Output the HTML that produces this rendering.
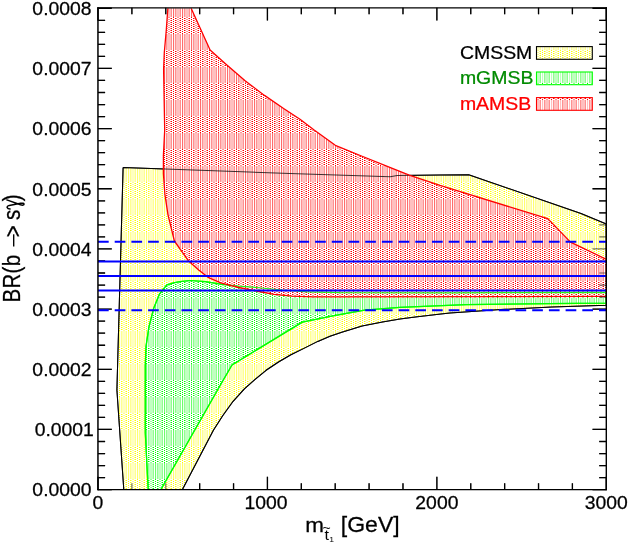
<!DOCTYPE html>
<html><head><meta charset="utf-8"><title>BR(b->s gamma) vs stop mass</title>
<style>
html,body{margin:0;padding:0;background:#fff;}
svg{display:block;will-change:transform;}
text{font-family:"Liberation Sans",sans-serif;}
</style></head><body>
<svg width="629" height="545" viewBox="0 0 629 545">
<defs>
<pattern id="pY" patternUnits="userSpaceOnUse" width="9" height="33" patternTransform="translate(0,17)">
<rect width="9" height="33" fill="#fff"/>
<rect x="4" y="17" width="5" height="16" fill="#ffffc0"/>
<rect x="0" y="17" width="1" height="16" fill="#ffffc0"/>
<rect x="2" y="17" width="1.1" height="16" fill="#ffff00" fill-opacity="0.58"/>
<rect x="4" y="17" width="1" height="16" fill="#ffff00" fill-opacity="0.25"/>
<rect x="0" y="17" width="1" height="16" fill="#ffff00" fill-opacity="0.25"/>
<rect x="2" y="0" width="1" height="1" fill="#ffff00"/>
<rect x="6" y="0" width="2" height="1" fill="#ffff00" fill-opacity="0.42"/>
<rect x="0" y="1" width="1" height="1" fill="#ffff00"/>
<rect x="8.5" y="1" width="0.5" height="1" fill="#ffff00"/>
<rect x="4" y="1" width="1.5" height="1" fill="#ffff00"/>
<rect x="2" y="2" width="1" height="1" fill="#ffff00"/>
<rect x="6" y="2" width="2" height="1" fill="#ffff00" fill-opacity="0.42"/>
<rect x="0" y="3" width="1" height="1" fill="#ffff00"/>
<rect x="8.5" y="3" width="0.5" height="1" fill="#ffff00"/>
<rect x="4" y="3" width="1.5" height="1" fill="#ffff00"/>
<rect x="2" y="4" width="1" height="1" fill="#ffff00"/>
<rect x="6" y="4" width="2" height="1" fill="#ffff00" fill-opacity="0.42"/>
<rect x="0" y="5" width="1" height="1" fill="#ffff00"/>
<rect x="8.5" y="5" width="0.5" height="1" fill="#ffff00"/>
<rect x="4" y="5" width="1.5" height="1" fill="#ffff00"/>
<rect x="2" y="6" width="1" height="1" fill="#ffff00"/>
<rect x="6" y="6" width="2" height="1" fill="#ffff00" fill-opacity="0.42"/>
<rect x="0" y="7" width="1" height="1" fill="#ffff00"/>
<rect x="8.5" y="7" width="0.5" height="1" fill="#ffff00"/>
<rect x="4" y="7" width="1.5" height="1" fill="#ffff00"/>
<rect x="2" y="8" width="1" height="1" fill="#ffff00"/>
<rect x="6" y="8" width="2" height="1" fill="#ffff00" fill-opacity="0.42"/>
<rect x="0" y="9" width="1" height="1" fill="#ffff00"/>
<rect x="8.5" y="9" width="0.5" height="1" fill="#ffff00"/>
<rect x="4" y="9" width="1.5" height="1" fill="#ffff00"/>
<rect x="2" y="10" width="1" height="1" fill="#ffff00"/>
<rect x="6" y="10" width="2" height="1" fill="#ffff00" fill-opacity="0.42"/>
<rect x="0" y="11" width="1" height="1" fill="#ffff00"/>
<rect x="8.5" y="11" width="0.5" height="1" fill="#ffff00"/>
<rect x="4" y="11" width="1.5" height="1" fill="#ffff00"/>
<rect x="2" y="12" width="1" height="1" fill="#ffff00"/>
<rect x="6" y="12" width="2" height="1" fill="#ffff00" fill-opacity="0.42"/>
<rect x="0" y="13" width="1" height="1" fill="#ffff00"/>
<rect x="8.5" y="13" width="0.5" height="1" fill="#ffff00"/>
<rect x="4" y="13" width="1.5" height="1" fill="#ffff00"/>
<rect x="2" y="14" width="1" height="1" fill="#ffff00"/>
<rect x="6" y="14" width="2" height="1" fill="#ffff00" fill-opacity="0.42"/>
<rect x="0" y="15" width="1" height="1" fill="#ffff00"/>
<rect x="8.5" y="15" width="0.5" height="1" fill="#ffff00"/>
<rect x="4" y="15" width="1.5" height="1" fill="#ffff00"/>
<rect x="2" y="16" width="1" height="1" fill="#ffff00"/>
<rect x="6" y="16" width="2" height="1" fill="#ffff00" fill-opacity="0.42"/>
</pattern>
<pattern id="pG" patternUnits="userSpaceOnUse" width="9" height="33" patternTransform="translate(0,17)">
<rect width="9" height="33" fill="#fff"/>
<rect x="4" y="17" width="5" height="16" fill="#c0ffc0"/>
<rect x="0" y="17" width="1" height="16" fill="#c0ffc0"/>
<rect x="2" y="17" width="1.1" height="16" fill="#00ff00" fill-opacity="0.58"/>
<rect x="4" y="17" width="1" height="16" fill="#00ff00" fill-opacity="0.25"/>
<rect x="0" y="17" width="1" height="16" fill="#00ff00" fill-opacity="0.25"/>
<rect x="2" y="0" width="1" height="1" fill="#00ff00"/>
<rect x="6" y="0" width="2" height="1" fill="#00ff00" fill-opacity="0.42"/>
<rect x="0" y="1" width="1" height="1" fill="#00ff00"/>
<rect x="8.5" y="1" width="0.5" height="1" fill="#00ff00"/>
<rect x="4" y="1" width="1.5" height="1" fill="#00ff00"/>
<rect x="2" y="2" width="1" height="1" fill="#00ff00"/>
<rect x="6" y="2" width="2" height="1" fill="#00ff00" fill-opacity="0.42"/>
<rect x="0" y="3" width="1" height="1" fill="#00ff00"/>
<rect x="8.5" y="3" width="0.5" height="1" fill="#00ff00"/>
<rect x="4" y="3" width="1.5" height="1" fill="#00ff00"/>
<rect x="2" y="4" width="1" height="1" fill="#00ff00"/>
<rect x="6" y="4" width="2" height="1" fill="#00ff00" fill-opacity="0.42"/>
<rect x="0" y="5" width="1" height="1" fill="#00ff00"/>
<rect x="8.5" y="5" width="0.5" height="1" fill="#00ff00"/>
<rect x="4" y="5" width="1.5" height="1" fill="#00ff00"/>
<rect x="2" y="6" width="1" height="1" fill="#00ff00"/>
<rect x="6" y="6" width="2" height="1" fill="#00ff00" fill-opacity="0.42"/>
<rect x="0" y="7" width="1" height="1" fill="#00ff00"/>
<rect x="8.5" y="7" width="0.5" height="1" fill="#00ff00"/>
<rect x="4" y="7" width="1.5" height="1" fill="#00ff00"/>
<rect x="2" y="8" width="1" height="1" fill="#00ff00"/>
<rect x="6" y="8" width="2" height="1" fill="#00ff00" fill-opacity="0.42"/>
<rect x="0" y="9" width="1" height="1" fill="#00ff00"/>
<rect x="8.5" y="9" width="0.5" height="1" fill="#00ff00"/>
<rect x="4" y="9" width="1.5" height="1" fill="#00ff00"/>
<rect x="2" y="10" width="1" height="1" fill="#00ff00"/>
<rect x="6" y="10" width="2" height="1" fill="#00ff00" fill-opacity="0.42"/>
<rect x="0" y="11" width="1" height="1" fill="#00ff00"/>
<rect x="8.5" y="11" width="0.5" height="1" fill="#00ff00"/>
<rect x="4" y="11" width="1.5" height="1" fill="#00ff00"/>
<rect x="2" y="12" width="1" height="1" fill="#00ff00"/>
<rect x="6" y="12" width="2" height="1" fill="#00ff00" fill-opacity="0.42"/>
<rect x="0" y="13" width="1" height="1" fill="#00ff00"/>
<rect x="8.5" y="13" width="0.5" height="1" fill="#00ff00"/>
<rect x="4" y="13" width="1.5" height="1" fill="#00ff00"/>
<rect x="2" y="14" width="1" height="1" fill="#00ff00"/>
<rect x="6" y="14" width="2" height="1" fill="#00ff00" fill-opacity="0.42"/>
<rect x="0" y="15" width="1" height="1" fill="#00ff00"/>
<rect x="8.5" y="15" width="0.5" height="1" fill="#00ff00"/>
<rect x="4" y="15" width="1.5" height="1" fill="#00ff00"/>
<rect x="2" y="16" width="1" height="1" fill="#00ff00"/>
<rect x="6" y="16" width="2" height="1" fill="#00ff00" fill-opacity="0.42"/>
</pattern>
<pattern id="pR" patternUnits="userSpaceOnUse" width="9" height="33" patternTransform="translate(0,17)">
<rect width="9" height="33" fill="#fff"/>
<rect x="4" y="17" width="5" height="16" fill="#ffc0c0"/>
<rect x="0" y="17" width="1" height="16" fill="#ffc0c0"/>
<rect x="2" y="17" width="1.1" height="16" fill="#ff0000" fill-opacity="0.58"/>
<rect x="4" y="17" width="1" height="16" fill="#ff0000" fill-opacity="0.25"/>
<rect x="0" y="17" width="1" height="16" fill="#ff0000" fill-opacity="0.25"/>
<rect x="2" y="0" width="1" height="1" fill="#ff0000"/>
<rect x="6" y="0" width="2" height="1" fill="#ff0000" fill-opacity="0.42"/>
<rect x="0" y="1" width="1" height="1" fill="#ff0000"/>
<rect x="8.5" y="1" width="0.5" height="1" fill="#ff0000"/>
<rect x="4" y="1" width="1.5" height="1" fill="#ff0000"/>
<rect x="2" y="2" width="1" height="1" fill="#ff0000"/>
<rect x="6" y="2" width="2" height="1" fill="#ff0000" fill-opacity="0.42"/>
<rect x="0" y="3" width="1" height="1" fill="#ff0000"/>
<rect x="8.5" y="3" width="0.5" height="1" fill="#ff0000"/>
<rect x="4" y="3" width="1.5" height="1" fill="#ff0000"/>
<rect x="2" y="4" width="1" height="1" fill="#ff0000"/>
<rect x="6" y="4" width="2" height="1" fill="#ff0000" fill-opacity="0.42"/>
<rect x="0" y="5" width="1" height="1" fill="#ff0000"/>
<rect x="8.5" y="5" width="0.5" height="1" fill="#ff0000"/>
<rect x="4" y="5" width="1.5" height="1" fill="#ff0000"/>
<rect x="2" y="6" width="1" height="1" fill="#ff0000"/>
<rect x="6" y="6" width="2" height="1" fill="#ff0000" fill-opacity="0.42"/>
<rect x="0" y="7" width="1" height="1" fill="#ff0000"/>
<rect x="8.5" y="7" width="0.5" height="1" fill="#ff0000"/>
<rect x="4" y="7" width="1.5" height="1" fill="#ff0000"/>
<rect x="2" y="8" width="1" height="1" fill="#ff0000"/>
<rect x="6" y="8" width="2" height="1" fill="#ff0000" fill-opacity="0.42"/>
<rect x="0" y="9" width="1" height="1" fill="#ff0000"/>
<rect x="8.5" y="9" width="0.5" height="1" fill="#ff0000"/>
<rect x="4" y="9" width="1.5" height="1" fill="#ff0000"/>
<rect x="2" y="10" width="1" height="1" fill="#ff0000"/>
<rect x="6" y="10" width="2" height="1" fill="#ff0000" fill-opacity="0.42"/>
<rect x="0" y="11" width="1" height="1" fill="#ff0000"/>
<rect x="8.5" y="11" width="0.5" height="1" fill="#ff0000"/>
<rect x="4" y="11" width="1.5" height="1" fill="#ff0000"/>
<rect x="2" y="12" width="1" height="1" fill="#ff0000"/>
<rect x="6" y="12" width="2" height="1" fill="#ff0000" fill-opacity="0.42"/>
<rect x="0" y="13" width="1" height="1" fill="#ff0000"/>
<rect x="8.5" y="13" width="0.5" height="1" fill="#ff0000"/>
<rect x="4" y="13" width="1.5" height="1" fill="#ff0000"/>
<rect x="2" y="14" width="1" height="1" fill="#ff0000"/>
<rect x="6" y="14" width="2" height="1" fill="#ff0000" fill-opacity="0.42"/>
<rect x="0" y="15" width="1" height="1" fill="#ff0000"/>
<rect x="8.5" y="15" width="0.5" height="1" fill="#ff0000"/>
<rect x="4" y="15" width="1.5" height="1" fill="#ff0000"/>
<rect x="2" y="16" width="1" height="1" fill="#ff0000"/>
<rect x="6" y="16" width="2" height="1" fill="#ff0000" fill-opacity="0.42"/>
</pattern>
<pattern id="pYL" patternUnits="userSpaceOnUse" width="9" height="33" patternTransform="translate(0,17)">
<rect width="9" height="33" fill="#fff"/>
<rect x="4" y="17" width="5" height="16" fill="#ffffc0"/>
<rect x="0" y="17" width="1" height="16" fill="#ffffc0"/>
<rect x="2" y="17" width="1.1" height="16" fill="#ffff00" fill-opacity="0.25"/>
<rect x="4" y="17" width="1" height="16" fill="#ffff00" fill-opacity="0.25"/>
<rect x="0" y="17" width="1" height="16" fill="#ffff00" fill-opacity="0.25"/>
<rect x="2" y="0" width="1" height="1" fill="#ffff00"/>
<rect x="6" y="0" width="2" height="1" fill="#ffff00" fill-opacity="0.42"/>
<rect x="0" y="1" width="1" height="1" fill="#ffff00"/>
<rect x="8.5" y="1" width="0.5" height="1" fill="#ffff00"/>
<rect x="4" y="1" width="1.5" height="1" fill="#ffff00"/>
<rect x="2" y="2" width="1" height="1" fill="#ffff00"/>
<rect x="6" y="2" width="2" height="1" fill="#ffff00" fill-opacity="0.42"/>
<rect x="0" y="3" width="1" height="1" fill="#ffff00"/>
<rect x="8.5" y="3" width="0.5" height="1" fill="#ffff00"/>
<rect x="4" y="3" width="1.5" height="1" fill="#ffff00"/>
<rect x="2" y="4" width="1" height="1" fill="#ffff00"/>
<rect x="6" y="4" width="2" height="1" fill="#ffff00" fill-opacity="0.42"/>
<rect x="0" y="5" width="1" height="1" fill="#ffff00"/>
<rect x="8.5" y="5" width="0.5" height="1" fill="#ffff00"/>
<rect x="4" y="5" width="1.5" height="1" fill="#ffff00"/>
<rect x="2" y="6" width="1" height="1" fill="#ffff00"/>
<rect x="6" y="6" width="2" height="1" fill="#ffff00" fill-opacity="0.42"/>
<rect x="0" y="7" width="1" height="1" fill="#ffff00"/>
<rect x="8.5" y="7" width="0.5" height="1" fill="#ffff00"/>
<rect x="4" y="7" width="1.5" height="1" fill="#ffff00"/>
<rect x="2" y="8" width="1" height="1" fill="#ffff00"/>
<rect x="6" y="8" width="2" height="1" fill="#ffff00" fill-opacity="0.42"/>
<rect x="0" y="9" width="1" height="1" fill="#ffff00"/>
<rect x="8.5" y="9" width="0.5" height="1" fill="#ffff00"/>
<rect x="4" y="9" width="1.5" height="1" fill="#ffff00"/>
<rect x="2" y="10" width="1" height="1" fill="#ffff00"/>
<rect x="6" y="10" width="2" height="1" fill="#ffff00" fill-opacity="0.42"/>
<rect x="0" y="11" width="1" height="1" fill="#ffff00"/>
<rect x="8.5" y="11" width="0.5" height="1" fill="#ffff00"/>
<rect x="4" y="11" width="1.5" height="1" fill="#ffff00"/>
<rect x="2" y="12" width="1" height="1" fill="#ffff00"/>
<rect x="6" y="12" width="2" height="1" fill="#ffff00" fill-opacity="0.42"/>
<rect x="0" y="13" width="1" height="1" fill="#ffff00"/>
<rect x="8.5" y="13" width="0.5" height="1" fill="#ffff00"/>
<rect x="4" y="13" width="1.5" height="1" fill="#ffff00"/>
<rect x="2" y="14" width="1" height="1" fill="#ffff00"/>
<rect x="6" y="14" width="2" height="1" fill="#ffff00" fill-opacity="0.42"/>
<rect x="0" y="15" width="1" height="1" fill="#ffff00"/>
<rect x="8.5" y="15" width="0.5" height="1" fill="#ffff00"/>
<rect x="4" y="15" width="1.5" height="1" fill="#ffff00"/>
<rect x="2" y="16" width="1" height="1" fill="#ffff00"/>
<rect x="6" y="16" width="2" height="1" fill="#ffff00" fill-opacity="0.42"/>
</pattern>
<pattern id="pGL" patternUnits="userSpaceOnUse" width="9" height="33" patternTransform="translate(0,17)">
<rect width="9" height="33" fill="#fff"/>
<rect x="4" y="17" width="5" height="16" fill="#c0ffc0"/>
<rect x="0" y="17" width="1" height="16" fill="#c0ffc0"/>
<rect x="2" y="17" width="1.1" height="16" fill="#00ff00" fill-opacity="0.25"/>
<rect x="4" y="17" width="1" height="16" fill="#00ff00" fill-opacity="0.25"/>
<rect x="0" y="17" width="1" height="16" fill="#00ff00" fill-opacity="0.25"/>
<rect x="2" y="0" width="1" height="1" fill="#00ff00"/>
<rect x="6" y="0" width="2" height="1" fill="#00ff00" fill-opacity="0.42"/>
<rect x="0" y="1" width="1" height="1" fill="#00ff00"/>
<rect x="8.5" y="1" width="0.5" height="1" fill="#00ff00"/>
<rect x="4" y="1" width="1.5" height="1" fill="#00ff00"/>
<rect x="2" y="2" width="1" height="1" fill="#00ff00"/>
<rect x="6" y="2" width="2" height="1" fill="#00ff00" fill-opacity="0.42"/>
<rect x="0" y="3" width="1" height="1" fill="#00ff00"/>
<rect x="8.5" y="3" width="0.5" height="1" fill="#00ff00"/>
<rect x="4" y="3" width="1.5" height="1" fill="#00ff00"/>
<rect x="2" y="4" width="1" height="1" fill="#00ff00"/>
<rect x="6" y="4" width="2" height="1" fill="#00ff00" fill-opacity="0.42"/>
<rect x="0" y="5" width="1" height="1" fill="#00ff00"/>
<rect x="8.5" y="5" width="0.5" height="1" fill="#00ff00"/>
<rect x="4" y="5" width="1.5" height="1" fill="#00ff00"/>
<rect x="2" y="6" width="1" height="1" fill="#00ff00"/>
<rect x="6" y="6" width="2" height="1" fill="#00ff00" fill-opacity="0.42"/>
<rect x="0" y="7" width="1" height="1" fill="#00ff00"/>
<rect x="8.5" y="7" width="0.5" height="1" fill="#00ff00"/>
<rect x="4" y="7" width="1.5" height="1" fill="#00ff00"/>
<rect x="2" y="8" width="1" height="1" fill="#00ff00"/>
<rect x="6" y="8" width="2" height="1" fill="#00ff00" fill-opacity="0.42"/>
<rect x="0" y="9" width="1" height="1" fill="#00ff00"/>
<rect x="8.5" y="9" width="0.5" height="1" fill="#00ff00"/>
<rect x="4" y="9" width="1.5" height="1" fill="#00ff00"/>
<rect x="2" y="10" width="1" height="1" fill="#00ff00"/>
<rect x="6" y="10" width="2" height="1" fill="#00ff00" fill-opacity="0.42"/>
<rect x="0" y="11" width="1" height="1" fill="#00ff00"/>
<rect x="8.5" y="11" width="0.5" height="1" fill="#00ff00"/>
<rect x="4" y="11" width="1.5" height="1" fill="#00ff00"/>
<rect x="2" y="12" width="1" height="1" fill="#00ff00"/>
<rect x="6" y="12" width="2" height="1" fill="#00ff00" fill-opacity="0.42"/>
<rect x="0" y="13" width="1" height="1" fill="#00ff00"/>
<rect x="8.5" y="13" width="0.5" height="1" fill="#00ff00"/>
<rect x="4" y="13" width="1.5" height="1" fill="#00ff00"/>
<rect x="2" y="14" width="1" height="1" fill="#00ff00"/>
<rect x="6" y="14" width="2" height="1" fill="#00ff00" fill-opacity="0.42"/>
<rect x="0" y="15" width="1" height="1" fill="#00ff00"/>
<rect x="8.5" y="15" width="0.5" height="1" fill="#00ff00"/>
<rect x="4" y="15" width="1.5" height="1" fill="#00ff00"/>
<rect x="2" y="16" width="1" height="1" fill="#00ff00"/>
<rect x="6" y="16" width="2" height="1" fill="#00ff00" fill-opacity="0.42"/>
</pattern>
<pattern id="pRL" patternUnits="userSpaceOnUse" width="9" height="33" patternTransform="translate(0,17)">
<rect width="9" height="33" fill="#fff"/>
<rect x="4" y="17" width="5" height="16" fill="#ffc0c0"/>
<rect x="0" y="17" width="1" height="16" fill="#ffc0c0"/>
<rect x="2" y="17" width="1.1" height="16" fill="#ff0000" fill-opacity="0.25"/>
<rect x="4" y="17" width="1" height="16" fill="#ff0000" fill-opacity="0.25"/>
<rect x="0" y="17" width="1" height="16" fill="#ff0000" fill-opacity="0.25"/>
<rect x="2" y="0" width="1" height="1" fill="#ff0000"/>
<rect x="6" y="0" width="2" height="1" fill="#ff0000" fill-opacity="0.42"/>
<rect x="0" y="1" width="1" height="1" fill="#ff0000"/>
<rect x="8.5" y="1" width="0.5" height="1" fill="#ff0000"/>
<rect x="4" y="1" width="1.5" height="1" fill="#ff0000"/>
<rect x="2" y="2" width="1" height="1" fill="#ff0000"/>
<rect x="6" y="2" width="2" height="1" fill="#ff0000" fill-opacity="0.42"/>
<rect x="0" y="3" width="1" height="1" fill="#ff0000"/>
<rect x="8.5" y="3" width="0.5" height="1" fill="#ff0000"/>
<rect x="4" y="3" width="1.5" height="1" fill="#ff0000"/>
<rect x="2" y="4" width="1" height="1" fill="#ff0000"/>
<rect x="6" y="4" width="2" height="1" fill="#ff0000" fill-opacity="0.42"/>
<rect x="0" y="5" width="1" height="1" fill="#ff0000"/>
<rect x="8.5" y="5" width="0.5" height="1" fill="#ff0000"/>
<rect x="4" y="5" width="1.5" height="1" fill="#ff0000"/>
<rect x="2" y="6" width="1" height="1" fill="#ff0000"/>
<rect x="6" y="6" width="2" height="1" fill="#ff0000" fill-opacity="0.42"/>
<rect x="0" y="7" width="1" height="1" fill="#ff0000"/>
<rect x="8.5" y="7" width="0.5" height="1" fill="#ff0000"/>
<rect x="4" y="7" width="1.5" height="1" fill="#ff0000"/>
<rect x="2" y="8" width="1" height="1" fill="#ff0000"/>
<rect x="6" y="8" width="2" height="1" fill="#ff0000" fill-opacity="0.42"/>
<rect x="0" y="9" width="1" height="1" fill="#ff0000"/>
<rect x="8.5" y="9" width="0.5" height="1" fill="#ff0000"/>
<rect x="4" y="9" width="1.5" height="1" fill="#ff0000"/>
<rect x="2" y="10" width="1" height="1" fill="#ff0000"/>
<rect x="6" y="10" width="2" height="1" fill="#ff0000" fill-opacity="0.42"/>
<rect x="0" y="11" width="1" height="1" fill="#ff0000"/>
<rect x="8.5" y="11" width="0.5" height="1" fill="#ff0000"/>
<rect x="4" y="11" width="1.5" height="1" fill="#ff0000"/>
<rect x="2" y="12" width="1" height="1" fill="#ff0000"/>
<rect x="6" y="12" width="2" height="1" fill="#ff0000" fill-opacity="0.42"/>
<rect x="0" y="13" width="1" height="1" fill="#ff0000"/>
<rect x="8.5" y="13" width="0.5" height="1" fill="#ff0000"/>
<rect x="4" y="13" width="1.5" height="1" fill="#ff0000"/>
<rect x="2" y="14" width="1" height="1" fill="#ff0000"/>
<rect x="6" y="14" width="2" height="1" fill="#ff0000" fill-opacity="0.42"/>
<rect x="0" y="15" width="1" height="1" fill="#ff0000"/>
<rect x="8.5" y="15" width="0.5" height="1" fill="#ff0000"/>
<rect x="4" y="15" width="1.5" height="1" fill="#ff0000"/>
<rect x="2" y="16" width="1" height="1" fill="#ff0000"/>
<rect x="6" y="16" width="2" height="1" fill="#ff0000" fill-opacity="0.42"/>
</pattern>
<clipPath id="clip"><rect x="98.0" y="8.2" width="508.3" height="481.4"/></clipPath>
</defs>
<rect width="629" height="545" fill="#fff"/>
<path d="M98.00 489.65v-12.8M98.00 7.80v12.8M131.89 489.65v-6.4M131.89 7.80v6.4M165.77 489.65v-6.4M165.77 7.80v6.4M199.66 489.65v-6.4M199.66 7.80v6.4M233.55 489.65v-6.4M233.55 7.80v6.4M267.43 489.65v-12.8M267.43 7.80v12.8M301.32 489.65v-6.4M301.32 7.80v6.4M335.21 489.65v-6.4M335.21 7.80v6.4M369.09 489.65v-6.4M369.09 7.80v6.4M402.98 489.65v-6.4M402.98 7.80v6.4M436.87 489.65v-12.8M436.87 7.80v12.8M470.75 489.65v-6.4M470.75 7.80v6.4M504.64 489.65v-6.4M504.64 7.80v6.4M538.53 489.65v-6.4M538.53 7.80v6.4M572.41 489.65v-6.4M572.41 7.80v6.4M606.30 489.65v-12.8M606.30 7.80v12.8M98.00 489.65h13.8M606.30 489.65h-13.8M98.00 477.61h7.1M606.30 477.61h-7.1M98.00 465.58h7.1M606.30 465.58h-7.1M98.00 453.54h7.1M606.30 453.54h-7.1M98.00 441.51h7.1M606.30 441.51h-7.1M98.00 429.47h13.8M606.30 429.47h-13.8M98.00 417.44h7.1M606.30 417.44h-7.1M98.00 405.40h7.1M606.30 405.40h-7.1M98.00 393.37h7.1M606.30 393.37h-7.1M98.00 381.33h7.1M606.30 381.33h-7.1M98.00 369.30h13.8M606.30 369.30h-13.8M98.00 357.26h7.1M606.30 357.26h-7.1M98.00 345.23h7.1M606.30 345.23h-7.1M98.00 333.19h7.1M606.30 333.19h-7.1M98.00 321.16h7.1M606.30 321.16h-7.1M98.00 309.12h13.8M606.30 309.12h-13.8M98.00 297.09h7.1M606.30 297.09h-7.1M98.00 285.05h7.1M606.30 285.05h-7.1M98.00 273.02h7.1M606.30 273.02h-7.1M98.00 260.99h7.1M606.30 260.99h-7.1M98.00 248.95h13.8M606.30 248.95h-13.8M98.00 236.91h7.1M606.30 236.91h-7.1M98.00 224.88h7.1M606.30 224.88h-7.1M98.00 212.84h7.1M606.30 212.84h-7.1M98.00 200.81h7.1M606.30 200.81h-7.1M98.00 188.77h13.8M606.30 188.77h-13.8M98.00 176.74h7.1M606.30 176.74h-7.1M98.00 164.71h7.1M606.30 164.71h-7.1M98.00 152.67h7.1M606.30 152.67h-7.1M98.00 140.63h7.1M606.30 140.63h-7.1M98.00 128.60h13.8M606.30 128.60h-13.8M98.00 116.56h7.1M606.30 116.56h-7.1M98.00 104.53h7.1M606.30 104.53h-7.1M98.00 92.49h7.1M606.30 92.49h-7.1M98.00 80.46h7.1M606.30 80.46h-7.1M98.00 68.42h13.8M606.30 68.42h-13.8M98.00 56.39h7.1M606.30 56.39h-7.1M98.00 44.35h7.1M606.30 44.35h-7.1M98.00 32.32h7.1M606.30 32.32h-7.1M98.00 20.28h7.1M606.30 20.28h-7.1M98.00 8.25h13.8M606.30 8.25h-13.8" stroke="#000" stroke-width="1.3" fill="none"/>
<g clip-path="url(#clip)">
<polygon points="123.1,167.5 290.0,173.5 390.2,176.8 397.3,175.6 440.0,174.9 468.7,174.8 581.0,213.4 606.3,224.0 606.3,305.2 551.8,307.0 500.9,309.6 450.0,312.9 440.9,314.0 415.4,316.9 400.0,319.0 382.5,322.1 362.1,325.9 341.8,332.2 330.0,336.2 317.8,341.4 303.4,348.6 290.9,354.8 278.5,362.0 266.1,370.3 254.8,379.6 244.4,388.9 233.1,401.3 222.7,415.8 213.4,430.2 182.3,489.7 123.8,489.7 116.9,390.0 123.1,167.5" fill="url(#pY)"/>
<polyline points="123.1,167.5 290.0,173.5 390.2,176.8 397.3,175.6 440.0,174.9 468.7,174.8 581.0,213.4 606.3,224.0 606.3,305.2 551.8,307.0 500.9,309.6 450.0,312.9 440.9,314.0 415.4,316.9 400.0,319.0 382.5,322.1 362.1,325.9 341.8,332.2 330.0,336.2 317.8,341.4 303.4,348.6 290.9,354.8 278.5,362.0 266.1,370.3 254.8,379.6 244.4,388.9 233.1,401.3 222.7,415.8 213.4,430.2 182.3,489.7 123.8,489.7 116.9,390.0 123.1,167.5" fill="none" stroke="#000" stroke-width="1.05" stroke-linejoin="round"/>
<polygon points="148.2,489.7 146.5,456.5 145.3,432.7 145.3,365.4 146.0,346.3 148.9,327.2 153.7,308.2 159.6,293.8 166.8,284.8 174.5,282.6 180.0,281.6 190.2,280.5 205.4,281.6 220.7,284.2 238.5,286.2 256.3,287.5 281.8,290.0 307.2,291.8 340.0,292.6 450.0,292.8 606.3,292.3 606.3,303.2 550.0,303.6 466.3,304.6 400.0,307.4 364.6,310.1 334.1,315.7 302.3,322.1 232.0,365.0 220.4,385.0 160.8,489.7" fill="url(#pG)"/>
<polyline points="148.2,489.7 146.5,456.5 145.3,432.7 145.3,365.4 146.0,346.3 148.9,327.2 153.7,308.2 159.6,293.8 166.8,284.8 174.5,282.6 180.0,281.6 190.2,280.5 205.4,281.6 220.7,284.2 238.5,286.2 256.3,287.5 281.8,290.0 307.2,291.8 340.0,292.6 450.0,292.8 606.3,292.3 606.3,303.2 550.0,303.6 466.3,304.6 400.0,307.4 364.6,310.1 334.1,315.7 302.3,322.1 232.0,365.0 220.4,385.0 160.8,489.7" fill="none" stroke="#00ff00" stroke-width="1.25" stroke-linejoin="round"/>
<polygon points="191.0,8.0 210.1,50.1 226.3,64.4 245.4,81.1 264.5,95.4 283.6,108.5 300.0,119.2 313.8,129.8 335.3,145.3 361.5,156.0 385.4,165.6 409.2,175.1 440.0,185.4 547.8,218.6 570.5,242.1 606.3,259.3 606.3,296.4 340.0,296.9 312.3,296.9 292.0,296.1 274.1,294.3 256.3,291.0 238.5,287.5 220.7,282.9 208.0,277.3 199.0,270.2 188.6,261.1 174.4,241.0 168.0,214.8 164.9,194.3 163.4,173.7 163.4,155.7 164.7,130.0 163.6,69.2 164.3,52.5 166.2,31.0 167.9,8.0" fill="url(#pR)"/>
<polyline points="123.1,167.5 290.0,173.5 390.2,176.8 397.3,175.6 440.0,174.9 468.7,174.8 581.0,213.4 606.3,224.0 606.3,305.2 551.8,307.0 500.9,309.6 450.0,312.9 440.9,314.0 415.4,316.9 400.0,319.0 382.5,322.1 362.1,325.9 341.8,332.2 330.0,336.2 317.8,341.4 303.4,348.6 290.9,354.8 278.5,362.0 266.1,370.3 254.8,379.6 244.4,388.9 233.1,401.3 222.7,415.8 213.4,430.2 182.3,489.7 123.8,489.7 116.9,390.0 123.1,167.5" fill="none" stroke="#000" stroke-width="1.05" stroke-linejoin="round" stroke-opacity="0.75"/>
<polyline points="148.2,489.7 146.5,456.5 145.3,432.7 145.3,365.4 146.0,346.3 148.9,327.2 153.7,308.2 159.6,293.8 166.8,284.8 174.5,282.6 180.0,281.6 190.2,280.5 205.4,281.6 220.7,284.2 238.5,286.2 256.3,287.5 281.8,290.0 307.2,291.8 340.0,292.6 450.0,292.8 606.3,292.3 606.3,303.2 550.0,303.6 466.3,304.6 400.0,307.4 364.6,310.1 334.1,315.7 302.3,322.1 232.0,365.0 220.4,385.0 160.8,489.7" fill="none" stroke="#00ff00" stroke-width="1.25" stroke-linejoin="round" stroke-opacity="0.85"/>
<polyline points="191.0,8.0 210.1,50.1 226.3,64.4 245.4,81.1 264.5,95.4 283.6,108.5 300.0,119.2 313.8,129.8 335.3,145.3 361.5,156.0 385.4,165.6 409.2,175.1 440.0,185.4 547.8,218.6 570.5,242.1 606.3,259.3" fill="none" stroke="#ff0000" stroke-width="1.3" stroke-linejoin="round"/>
<polyline points="606.3,296.4 340.0,296.9 312.3,296.9 292.0,296.1 274.1,294.3 256.3,291.0 238.5,287.5 220.7,282.9 208.0,277.3 199.0,270.2 188.6,261.1 174.4,241.0 168.0,214.8 164.9,194.3 163.4,173.7 163.4,155.7 164.7,130.0 163.6,69.2 164.3,52.5 166.2,31.0 167.9,8.0" fill="none" stroke="#ff0000" stroke-width="1.3" stroke-linejoin="round"/>
</g>
<path d="M98.00 489.65v-12.8M98.00 7.80v12.8M131.89 489.65v-6.4M131.89 7.80v6.4M165.77 489.65v-6.4M165.77 7.80v6.4M199.66 489.65v-6.4M199.66 7.80v6.4M233.55 489.65v-6.4M233.55 7.80v6.4M267.43 489.65v-12.8M267.43 7.80v12.8M301.32 489.65v-6.4M301.32 7.80v6.4M335.21 489.65v-6.4M335.21 7.80v6.4M369.09 489.65v-6.4M369.09 7.80v6.4M402.98 489.65v-6.4M402.98 7.80v6.4M436.87 489.65v-12.8M436.87 7.80v12.8M470.75 489.65v-6.4M470.75 7.80v6.4M504.64 489.65v-6.4M504.64 7.80v6.4M538.53 489.65v-6.4M538.53 7.80v6.4M572.41 489.65v-6.4M572.41 7.80v6.4M606.30 489.65v-12.8M606.30 7.80v12.8M98.00 489.65h13.8M606.30 489.65h-13.8M98.00 477.61h7.1M606.30 477.61h-7.1M98.00 465.58h7.1M606.30 465.58h-7.1M98.00 453.54h7.1M606.30 453.54h-7.1M98.00 441.51h7.1M606.30 441.51h-7.1M98.00 429.47h13.8M606.30 429.47h-13.8M98.00 417.44h7.1M606.30 417.44h-7.1M98.00 405.40h7.1M606.30 405.40h-7.1M98.00 393.37h7.1M606.30 393.37h-7.1M98.00 381.33h7.1M606.30 381.33h-7.1M98.00 369.30h13.8M606.30 369.30h-13.8M98.00 357.26h7.1M606.30 357.26h-7.1M98.00 345.23h7.1M606.30 345.23h-7.1M98.00 333.19h7.1M606.30 333.19h-7.1M98.00 321.16h7.1M606.30 321.16h-7.1M98.00 309.12h13.8M606.30 309.12h-13.8M98.00 297.09h7.1M606.30 297.09h-7.1M98.00 285.05h7.1M606.30 285.05h-7.1M98.00 273.02h7.1M606.30 273.02h-7.1M98.00 260.99h7.1M606.30 260.99h-7.1M98.00 248.95h13.8M606.30 248.95h-13.8M98.00 236.91h7.1M606.30 236.91h-7.1M98.00 224.88h7.1M606.30 224.88h-7.1M98.00 212.84h7.1M606.30 212.84h-7.1M98.00 200.81h7.1M606.30 200.81h-7.1M98.00 188.77h13.8M606.30 188.77h-13.8M98.00 176.74h7.1M606.30 176.74h-7.1M98.00 164.71h7.1M606.30 164.71h-7.1M98.00 152.67h7.1M606.30 152.67h-7.1M98.00 140.63h7.1M606.30 140.63h-7.1M98.00 128.60h13.8M606.30 128.60h-13.8M98.00 116.56h7.1M606.30 116.56h-7.1M98.00 104.53h7.1M606.30 104.53h-7.1M98.00 92.49h7.1M606.30 92.49h-7.1M98.00 80.46h7.1M606.30 80.46h-7.1M98.00 68.42h13.8M606.30 68.42h-13.8M98.00 56.39h7.1M606.30 56.39h-7.1M98.00 44.35h7.1M606.30 44.35h-7.1M98.00 32.32h7.1M606.30 32.32h-7.1M98.00 20.28h7.1M606.30 20.28h-7.1M98.00 8.25h13.8M606.30 8.25h-13.8" stroke="#000" stroke-width="1.2" fill="none" stroke-opacity="0.55"/>
<g clip-path="url(#clip)">
<line x1="98.0" y1="261.59" x2="606.3" y2="261.59" stroke="#0000ff" stroke-width="2"/>
<line x1="98.0" y1="276.03" x2="606.3" y2="276.03" stroke="#0000ff" stroke-width="2"/>
<line x1="98.0" y1="290.47" x2="606.3" y2="290.47" stroke="#0000ff" stroke-width="2"/>
<line x1="98.0" y1="241.70" x2="606.3" y2="241.70" stroke="#0000ff" stroke-width="2" stroke-dasharray="10.7 6"/>
<line x1="98.0" y1="310.30" x2="606.3" y2="310.30" stroke="#0000ff" stroke-width="2" stroke-dasharray="10.7 6"/>
</g>
<path d="M97.25 7.80H607.00" stroke="#000" stroke-width="1.2" fill="none"/>
<path d="M97.25 489.65H607.00" stroke="#000" stroke-width="1.4" fill="none"/>
<path d="M97.95 7.20V490.35" stroke="#000" stroke-width="1.5" fill="none"/>
<path d="M606.30 7.20V490.35" stroke="#000" stroke-width="1.4" fill="none"/>
<text transform="translate(91.6,496.40) scale(1.095,1)" font-size="17.7" text-anchor="end" stroke="#000" stroke-width="0.25">0.0000</text>
<text transform="translate(93.9,436.22) scale(1.095,1)" font-size="17.7" text-anchor="end" stroke="#000" stroke-width="0.25">0.0001</text>
<text transform="translate(91.6,376.05) scale(1.095,1)" font-size="17.7" text-anchor="end" stroke="#000" stroke-width="0.25">0.0002</text>
<text transform="translate(91.6,315.88) scale(1.095,1)" font-size="17.7" text-anchor="end" stroke="#000" stroke-width="0.25">0.0003</text>
<text transform="translate(91.6,255.70) scale(1.095,1)" font-size="17.7" text-anchor="end" stroke="#000" stroke-width="0.25">0.0004</text>
<text transform="translate(91.6,195.52) scale(1.095,1)" font-size="17.7" text-anchor="end" stroke="#000" stroke-width="0.25">0.0005</text>
<text transform="translate(91.6,135.35) scale(1.095,1)" font-size="17.7" text-anchor="end" stroke="#000" stroke-width="0.25">0.0006</text>
<text transform="translate(91.6,75.18) scale(1.095,1)" font-size="17.7" text-anchor="end" stroke="#000" stroke-width="0.25">0.0007</text>
<text transform="translate(91.6,15.00) scale(1.095,1)" font-size="17.7" text-anchor="end" stroke="#000" stroke-width="0.25">0.0008</text>
<text transform="translate(98.00,508.8) scale(1.095,1)" font-size="17.7" text-anchor="middle" stroke="#000" stroke-width="0.25">0</text>
<text transform="translate(265.93,508.8) scale(1.095,1)" font-size="17.7" text-anchor="middle" stroke="#000" stroke-width="0.25">1000</text>
<text transform="translate(436.87,508.8) scale(1.095,1)" font-size="17.7" text-anchor="middle" stroke="#000" stroke-width="0.25">2000</text>
<text transform="translate(606.30,508.8) scale(1.095,1)" font-size="17.7" text-anchor="middle" stroke="#000" stroke-width="0.25">3000</text>
<text transform="translate(459.9,58.70) scale(1.112,1)" font-size="17.5" fill="#000" stroke="#000" stroke-width="0.25">CMSSM</text>
<rect x="536.5" y="46.60" width="55.8" height="12.7" fill="url(#pYL)" stroke="#000" stroke-width="1.1"/>
<text transform="translate(459.9,84.10) scale(1.112,1)" font-size="17.5" fill="#008b00" stroke="#008b00" stroke-width="0.25">mGMSB</text>
<rect x="536.5" y="72.00" width="55.8" height="12.7" fill="url(#pGL)" stroke="#00ff00" stroke-width="1.1"/>
<text transform="translate(459.9,109.70) scale(1.112,1)" font-size="17.5" fill="#ff0000" stroke="#ff0000" stroke-width="0.25">mAMSB</text>
<rect x="536.5" y="97.60" width="55.8" height="12.7" fill="url(#pRL)" stroke="#ff0000" stroke-width="1.1"/>
<g transform="translate(20.3,301.0) rotate(-90) scale(1,1.138)" font-size="20.5" stroke="#000" stroke-width="0.25"><text x="-1.6" y="0" letter-spacing="0.35">BR(b</text><rect x="54.5" y="-6.4" width="12.2" height="1.2" fill="#000" stroke="none"/><text x="63.8" y="0.8">&gt;</text><text x="81.0" y="0">s</text><text x="99.7" y="0">)</text></g>
<g transform="translate(20.3,301.0) rotate(-90)"><path d="M91.9,-10.2 C92.0,-13.4 94.6,-14.6 95.6,-11 L97.7,0.3 C98.1,2.6 97.6,3.7 96.8,3.7 C95.9,3.7 95.5,2.4 96.2,0.2 L101.1,-13.5" fill="none" stroke="#000" stroke-width="1.5" stroke-linecap="round" stroke-linejoin="round"/></g>
<g transform="translate(305.2,531.5) scale(1.08,1)" stroke="#000" stroke-width="0.25"><text font-size="20.8">m</text><text x="17.8" y="8.0" font-size="15" stroke="none">t</text><text x="16.0" y="0.3" font-size="13" stroke="none">~</text><text x="22.3" y="10.2" font-size="8" stroke="none">1</text><text x="33.0" y="0" font-size="21.3">[GeV]</text></g>
</svg></body></html>
